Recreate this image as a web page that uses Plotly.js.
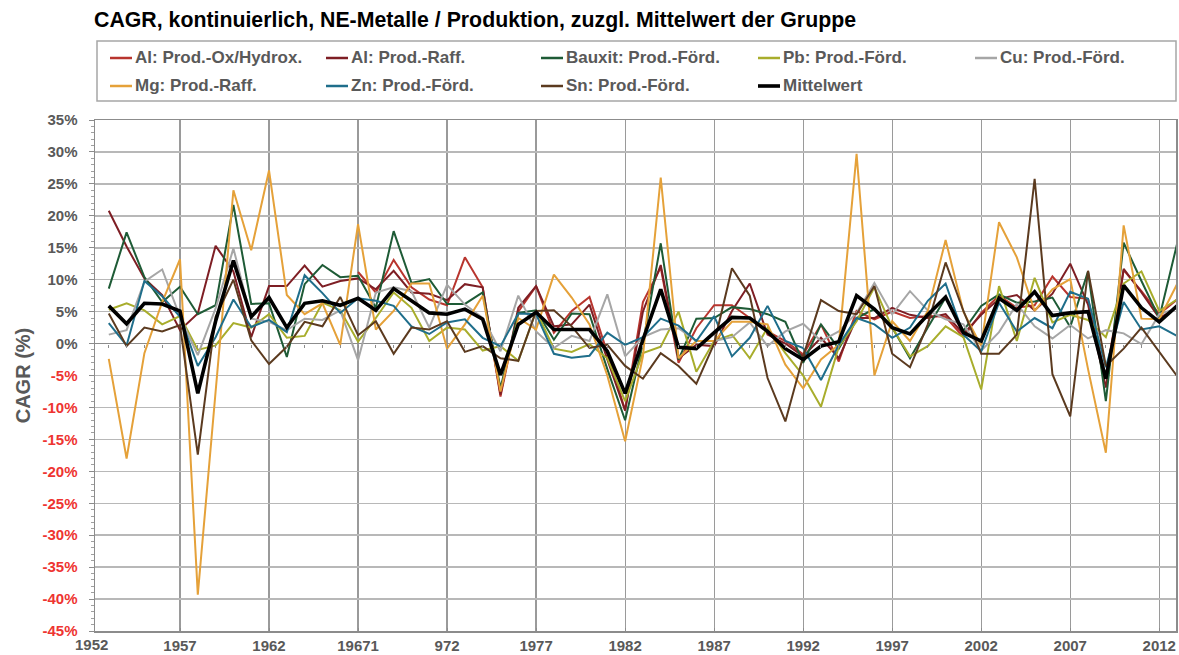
<!DOCTYPE html>
<html>
<head>
<meta charset="utf-8">
<script src="https://cdn.plot.ly/plotly-3.0.1.min.js"></script>
<style>
html,body{margin:0;padding:0;background:#fff;}
#chart{width:1179px;height:655px;}
</style>
</head>
<body>
<div id="chart"></div>
<script>
// Years (categories)
const years = [1953,1954,1955,1956,1957,1958,1959,1960,1961,1962,
1963,1964,1965,1966,1967,1968,1969,1970,1971,1972,
1973,1974,1975,1976,1977,1978,1979,1980,1981,1982,
1983,1984,1985,1986,1987,1988,1989,1990,1991,1992,
1993,1994,1995,1996,1997,1998,1999,2000,2001,2002,
2003,2004,2005,2006,2007,2008,2009,2010,2011,2012,2013];

// CAGR values in %
const alOx = [null,null,null,null,null,null,null,null,null,null,
null,null,null,null,11.2,8.0,13.1,8.8,6.9,6.0,
13.5,8.8,-8.3,5.0,9.0,1.7,5.1,7.3,-1.5,-10.4,
6.5,11.9,-3.0,2.4,6.0,6.0,4.0,1.9,0.4,-1.7,
3.0,-2.8,5.1,3.8,5.0,4.0,4.3,4.2,1.0,4.8,
7.5,5.6,6.0,10.5,7.3,7.0,-5.4,11.5,8.2,4.6,6.9];
const alRaff = [20.8,15.2,10.2,7.6,2.1,4.7,15.3,11.3,1.0,9.0,
9.0,12.2,8.9,9.8,10.2,8.5,11.4,8.0,7.8,6.8,
9.3,8.8,-8.0,5.6,9.0,2.7,3.0,6.1,-2.5,-10.5,
5.0,12.3,-2.3,-0.2,-0.4,5.1,9.4,1.4,0.0,-2.0,
0.9,-2.3,4.0,4.0,5.6,4.5,4.0,4.6,1.5,4.5,
7.0,7.6,5.2,7.8,12.5,6.1,-6.9,11.7,8.0,4.0,5.6];
const bauxit = [8.6,17.4,10.4,6.5,8.9,4.6,6.0,21.7,6.2,6.3,
-2.1,9.3,12.3,10.4,10.6,5.6,17.6,9.5,10.1,6.2,
6.2,8.0,-7.0,4.8,5.2,0.6,4.7,4.6,-4.0,-12.0,
0.0,15.7,-2.5,3.9,4.0,5.7,5.4,4.6,3.4,-3.0,
3.0,-0.8,4.0,5.4,2.5,-2.3,2.5,7.2,2.0,5.9,
7.7,6.4,6.6,7.2,2.6,11.3,-9.0,15.8,9.8,4.0,15.6];
const pb = [5.3,6.3,5.2,3.0,4.3,-1.0,-0.3,3.2,2.5,4.6,
0.9,1.2,6.4,5.2,0.3,4.0,8.0,5.6,0.4,2.5,
2.2,-1.1,-0.4,-2.7,5.1,-0.8,-1.3,-0.1,-2.3,-9.0,
-1.5,-0.5,5.0,-4.4,0.4,1.4,-2.3,2.5,-1.5,-5.0,
-9.9,-0.5,3.5,8.8,2.5,-2.0,-0.4,2.7,1.0,-7.2,
9.0,0.4,10.3,3.3,4.5,3.7,1.0,9.4,11.3,5.1,6.9];
const cu = [1.4,2.1,9.7,11.6,4.2,-1.8,5.5,14.9,3.9,3.4,
2.1,3.9,3.7,5.2,-2.6,8.0,8.8,8.2,2.5,9.2,
6.1,4.0,-1.2,7.5,1.9,-0.7,1.2,0.4,7.7,-2.0,
1.0,2.2,2.4,0.4,0.4,1.0,3.3,-0.4,1.9,3.1,
0.4,1.9,4.8,9.5,4.6,8.2,5.2,3.8,3.0,-1.1,
1.8,6.2,2.7,0.8,2.9,0.8,2.1,1.6,-0.1,4.6,5.5];
const mg = [-2.4,-18.0,-1.5,6.5,13.2,-39.3,-7.5,24.0,14.6,27.1,
7.6,4.6,6.3,-0.2,18.7,2.2,5.1,9.4,9.4,-0.8,
3.0,7.5,-7.5,4.0,2.2,10.8,7.2,3.0,-5.0,-15.3,
-2.0,26.0,-2.3,0.4,0.4,3.4,3.4,3.0,-3.3,-7.0,
-2.5,-0.2,29.7,-5.0,3.5,0.4,5.1,16.2,5.0,-0.4,
19.0,13.5,5.1,8.5,10.1,-4.0,-17.1,18.5,3.9,3.8,9.3];
const zn = [3.2,-0.3,9.8,7.4,4.2,-3.5,1.0,6.9,2.6,3.7,
1.8,10.7,7.9,4.8,7.1,6.7,5.9,2.7,1.5,3.3,
3.8,0.9,-0.4,4.7,4.6,-1.6,-2.2,-1.9,1.7,-0.2,
1.0,3.9,2.8,0.4,4.3,-2.0,0.9,5.9,0.4,-0.7,
-5.7,-0.2,4.0,3.0,0.9,2.5,6.7,9.4,1.4,-1.2,
6.4,1.9,4.0,2.4,8.1,7.0,-3.7,6.5,2.2,2.7,1.2];
const sn = [4.7,-0.4,2.5,1.9,2.9,-17.4,4.2,10.0,0.5,-3.2,
-0.5,3.4,2.7,7.3,1.3,3.5,-1.6,2.5,2.2,3.5,
-1.3,-0.4,-2.3,-2.7,5.1,5.2,2.7,-0.7,-0.2,-3.5,
-5.5,-1.5,-3.5,-6.3,0.0,11.8,7.5,-5.4,-12.2,-2.0,
6.8,5.1,4.6,9.0,-1.6,-3.7,3.0,12.7,5.1,-1.6,
-1.6,1.4,25.8,-4.8,-11.4,11.4,-3.5,-0.8,2.5,-1.2,-5.1];
const mittel = [5.9,3.1,6.3,6.2,5.1,-7.8,3.5,13.0,4.2,7.2,
2.5,6.3,6.7,6.0,7.1,5.2,8.6,6.7,4.8,4.6,
5.4,3.8,-4.9,3.0,4.9,2.2,2.2,2.2,-1.2,-7.8,
0.6,8.5,-0.6,-0.8,1.7,4.1,4.0,1.9,-0.8,-2.5,
-0.4,0.3,7.5,5.4,2.5,1.5,4.5,7.3,1.7,0.4,
7.1,5.2,8.1,4.4,4.8,5.0,-5.5,9.1,5.6,3.4,5.9];

// Tick labels
const xTickVals = [1957,1962,1967,1972,1977,1982,1987,1992,1997,2002,2007,2012];
const xTickText = ['1957','1962','19671','972','1977','1982','1987','1992','1997','2002','2007','2012'];
const firstXLabel = '1952';
const yTickVals = [-45,-40,-35,-30,-25,-20,-15,-10,-5,0,5,10,15,20,25,30,35];
const yTickText = ['-45%','-40%','-35%','-30%','-25%','-20%','-15%','-10%','-5%','0%','5%','10%','15%','20%','25%','30%','35%'];

const seriesNames = ['Al: Prod.-Ox/Hydrox.','Al: Prod.-Raff.','Bauxit: Prod.-Förd.','Pb: Prod.-Förd.','Cu: Prod.-Förd.',
  'Mg: Prod.-Raff.','Zn: Prod.-Förd.','Sn: Prod.-Förd.','Mittelwert'];
const seriesData = [alOx, alRaff, bauxit, pb, cu, mg, zn, sn, mittel];
const seriesColors = ['#B8352E','#7E1E24','#1E5B36','#A8AD2C','#A6A6A6','#E5A139','#1F6E8B','#5B3A1F','#000000'];

const traces = seriesData.map((d, i) => ({
  type: 'scatter', mode: 'lines', name: seriesNames[i],
  x: years, y: d,
  line: {color: seriesColors[i], width: i === 8 ? 3.6 : 2},
  showlegend: false,
  connectgaps: false,
  hoverinfo: 'skip'
}));
// helper trace so the zero-line tick axis is drawn
traces.push({type:'scatter', mode:'none', x:[1953], y:[0], xaxis:'x2', yaxis:'y', showlegend:false, hoverinfo:'skip'});

const L = 95, R = 3, T = 120, B = 24, W = 1179, H = 655;
const pw = W - L - R, ph = H - T - B;
const px = v => (v - L) / pw;          // pixel x -> paper
const py = v => (H - B - v) / ph;      // pixel y -> paper
const xRange = [1952.226, 2012.94];

const yText = yTickText.map((t, i) => yTickVals[i] < 0 ? '<span style="color:#EE3431">' + t + '</span>' : t);
const FAM = 'Liberation Sans, Arial, sans-serif';
const tickFont = {family: FAM, size: 15, weight: 'bold', color: '#595959'};
const legFont = {family: FAM, size: 17, weight: 'bold', color: '#595959'};

// legend drawn as shapes + annotations (two rows, five columns)
const legCols = [110, 326, 541, 758, 975];
const legRows = [58, 86];
const shapes = [{
  type: 'rect', xref: 'paper', yref: 'paper',
  x0: px(97), x1: px(1176), y0: py(101), y1: py(41),
  line: {color: '#A6A6A6', width: 1.5}, fillcolor: 'rgba(0,0,0,0)', layer: 'above'
}];
const annotations = [{
  text: firstXLabel, x: px(91), xref: 'paper', y: 0, yref: 'paper', yanchor: 'top', xanchor: 'center',
  yshift: -3, showarrow: false, font: tickFont
}];
seriesNames.forEach((n, i) => {
  const col = i < 5 ? i : i - 5;
  const row = i < 5 ? 0 : 1;
  const x0 = legCols[col], yy = legRows[row];
  shapes.push({type: 'line', xref: 'paper', yref: 'paper', x0: px(x0), x1: px(x0 + 22), y0: py(yy), y1: py(yy),
    line: {color: seriesColors[i], width: i === 8 ? 3.6 : 2.5}, layer: 'above'});
  annotations.push({text: n, xref: 'paper', yref: 'paper', x: px(x0 + 23), y: py(yy), xanchor: 'left', yanchor: 'middle',
    showarrow: false, font: legFont});
});

const layout = {
  width: W, height: H,
  margin: {l: L, r: R, t: T, b: B, pad: 0},
  paper_bgcolor: '#ffffff', plot_bgcolor: '#ffffff',
  font: {family: FAM, color: '#595959'},
  showlegend: false,
  title: {
    text: 'CAGR, kontinuierlich, NE-Metalle / Produktion, zuzgl. Mittelwert der Gruppe',
    font: {family: FAM, size: 21.3, weight: 'bold', color: '#000000'},
    xref: 'container', x: 94 / W, xanchor: 'left',
    yref: 'container', y: 1 - 20 / H, yanchor: 'middle'
  },
  xaxis: {
    range: xRange, tickmode: 'array', tickvals: xTickVals, ticktext: xTickText,
    showgrid: true, gridcolor: '#9A9A9A', gridwidth: 1.2,
    showline: true, linecolor: '#8C8C8C', linewidth: 1.5, mirror: true,
    ticks: 'inside', ticklen: 3, tickcolor: '#8C8C8C', tickwidth: 1,
    tickfont: tickFont, zeroline: false, fixedrange: true
  },
  xaxis2: {
    overlaying: 'x', anchor: 'free', position: 45 / 80, side: 'bottom',
    range: xRange, tickmode: 'linear', tick0: 1953, dtick: 1,
    ticks: 'outside', ticklen: 3, tickcolor: '#8C8C8C', tickwidth: 1,
    showticklabels: false, showgrid: false, zeroline: false, showline: false
  },
  yaxis: {
    range: [-45, 35], tickmode: 'array', tickvals: yTickVals, ticktext: yText,
    showgrid: true, gridcolor: '#B8B8B8', gridwidth: 1.5,
    zeroline: true, zerolinecolor: '#8C8C8C', zerolinewidth: 1.5,
    showline: true, linecolor: '#8C8C8C', linewidth: 1.5, mirror: true,
    ticks: 'outside', ticklen: 5, tickcolor: '#8C8C8C', tickwidth: 1,
    ticklabelstandoff: 8,
    minor: {tickmode: 'linear', tick0: 0, dtick: 1, ticks: 'outside', ticklen: 3, tickcolor: '#A0A0A0', showgrid: false},
    tickfont: tickFont,
    title: {text: 'CAGR (%)', font: {family: FAM, size: 20, weight: 'bold', color: '#595959'}, standoff: 6},
    fixedrange: true
  },
  shapes: shapes,
  annotations: annotations
};

Plotly.newPlot('chart', traces, layout, {displayModeBar: false, staticPlot: true});
</script>
</body>
</html>
